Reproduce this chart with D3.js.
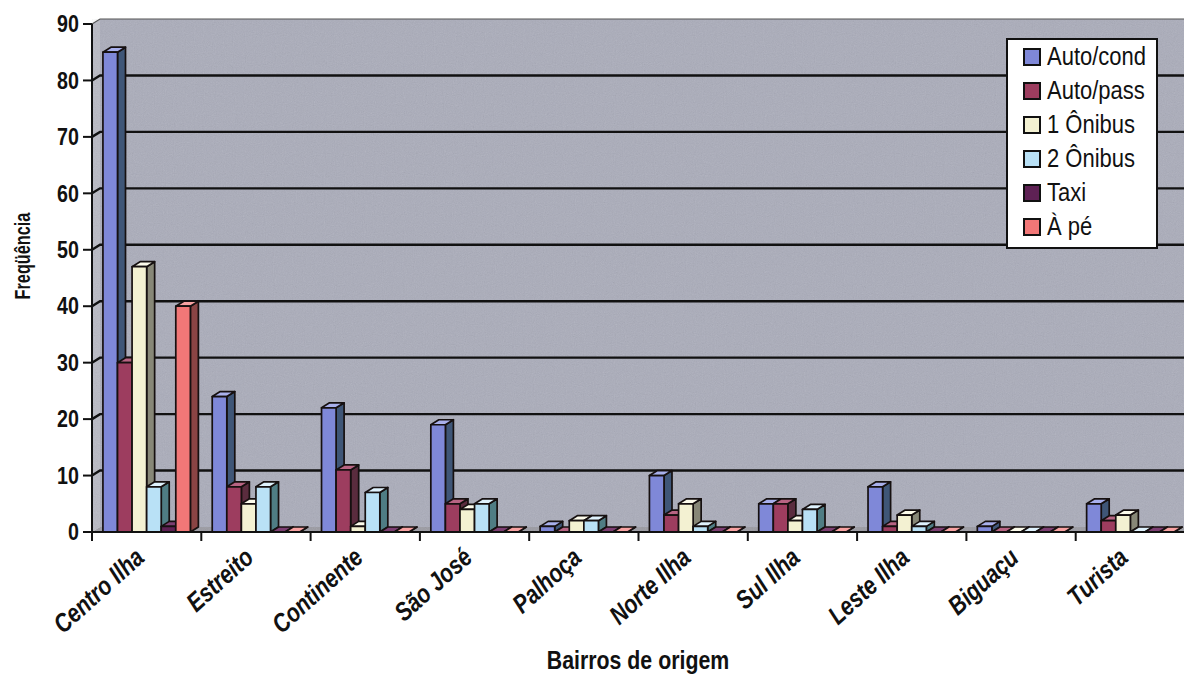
<!DOCTYPE html>
<html>
<head>
<meta charset="utf-8">
<script src="https://cdn.jsdelivr.net/npm/d3@7"></script>
<style>
  body { margin: 0; background: #fff; }
  svg { display: block; }
</style>
</head>
<body>
<svg id="chart" width="1184" height="675"></svg>
<script>
// categories (bairros de origem)
const bairros = ["Centro Ilha", "Estreito", "Continente", "São José", "Palhoça",
                 "Norte Ilha", "Sul Ilha", "Leste Ilha", "Biguaçu", "Turista"];
const modos = ["Auto/cond", "Auto/pass", "1 Ônibus", "2 Ônibus", "Taxi", "À pé"];

// one array per series
const autoCond = [85, 24, 22, 19, 1, 10, 5, 8, 1, 5];
const autoPass = [30, 8, 11, 5, 0, 3, 5, 1, 0, 2];
const onibus1  = [47, 5, 1, 4, 2, 5, 2, 3, 0, 3];
const onibus2  = [8, 8, 7, 5, 2, 1, 4, 1, 0, 0];
const taxi     = [1, 0, 0, 0, 0, 0, 0, 0, 0, 0];
const aPe      = [40, 0, 0, 0, 0, 0, 0, 0, 0, 0];
const yTicks = [0, 10, 20, 30, 40, 50, 60, 70, 80, 90];

const seriesValues = [autoCond, autoPass, onibus1, onibus2, taxi, aPe];
// front / side / top colours for each series
const colors = [
  ["#7f88d8", "#3f5677", "#a9b0ec"],
  ["#9d3d5f", "#5a2c3e", "#b86483"],
  ["#f3f1d2", "#878777", "#fdfcec"],
  ["#b9e1f6", "#4f7d84", "#dff2fd"],
  ["#5e2154", "#3a1734", "#7d3f72"],
  ["#f27777", "#8a4444", "#f8a2a2"]
];

const W = 1184, H = 675;
const svg = d3.select("#chart");
// no narrow font installed, so Liberation Sans gets squeezed horizontally
const sans = "'Liberation Sans', Arial, sans-serif";
const squeeze = 0.82;

// depth of the 3D effect
const dx = 8, dy = -5;

const x = d3.scaleBand().domain(bairros).range([92, 1185]).paddingInner(0).paddingOuter(0);
const xs = d3.scaleBand().domain(modos)
  .range([x.bandwidth() * 0.1, x.bandwidth() * 0.9]).padding(0);
const y = d3.scaleLinear().domain([0, 90]).range([532, 24]);

const x0 = x.range()[0], yb = y(0), yt = y(90);

// grain
const defs = svg.append("defs");
const f = defs.append("filter").attr("id", "grain").attr("x", 0).attr("y", 0)
  .attr("width", 1).attr("height", 1);
f.append("feTurbulence").attr("type", "fractalNoise").attr("baseFrequency", 0.9)
  .attr("numOctaves", 2).attr("seed", 3);
f.append("feColorMatrix").attr("type", "saturate").attr("values", 0);

// walls
svg.append("polygon") // side wall
  .attr("points", [[x0, yb], [x0, yt], [x0 + dx, yt + dy], [x0 + dx, yb + dy]].join(" "))
  .attr("fill", "#b9bac4");
svg.append("rect") // back wall
  .attr("x", x0 + dx).attr("y", yt + dy)
  .attr("width", W - x0 - dx).attr("height", yb - yt)
  .attr("fill", "#aaacba");
svg.append("polygon") // floor
  .attr("points", [[x0, yb], [x0 + dx, yb + dy], [W, yb + dy], [W, yb]].join(" "))
  .attr("fill", "#9a9aa2");
svg.append("rect")
  .attr("x", x0).attr("y", yt + dy)
  .attr("width", W - x0).attr("height", yb - yt - dy)
  .attr("filter", "url(#grain)").attr("opacity", 0.2);

// wall outline
svg.append("path")
  .attr("d", `M${x0},${yt}L${x0 + dx},${yt + dy}H${W}`)
  .attr("fill", "none").attr("stroke", "#555").attr("stroke-width", 1.2);

// gridlines on the back wall
svg.append("g").selectAll("path")
  .data(yTicks.filter(d => d > 0 && d < 90))
  .join("path")
  .attr("d", d => `M${x0},${y(d)}L${x0 + dx},${y(d) + dy}H${W}`)
  .attr("fill", "none")
  .attr("stroke", "#111")
  .attr("stroke-width", 2.4);

// bars
const bars = [];
bairros.forEach((b, i) => {
  modos.forEach((m, j) => {
    bars.push({ cat: b, mode: m, j: j, v: seriesValues[j][i] });
  });
});

const bw = xs.bandwidth();
const barG = svg.append("g")
  .attr("stroke", "#161010")
  .attr("stroke-width", 1.7)
  .attr("stroke-linejoin", "round");

bars.forEach(d => {
  const bx = x(d.cat) + xs(d.mode);
  const by = y(d.v);
  const g = barG.append("g");
  g.append("polygon") // side
    .attr("points", [[bx + bw, by], [bx + bw + dx, by + dy], [bx + bw + dx, yb + dy], [bx + bw, yb]].join(" "))
    .attr("fill", colors[d.j][1]);
  g.append("polygon") // top
    .attr("points", [[bx, by], [bx + dx, by + dy], [bx + bw + dx, by + dy], [bx + bw, by]].join(" "))
    .attr("fill", colors[d.j][2]);
  g.append("rect") // front
    .attr("x", bx).attr("y", by)
    .attr("width", bw).attr("height", yb - by)
    .attr("fill", colors[d.j][0]);
});

// y axis
const yAxis = svg.append("g");
yAxis.append("line")
  .attr("x1", x0).attr("x2", x0).attr("y1", yt).attr("y2", yb + 1)
  .attr("stroke", "#111").attr("stroke-width", 2);
yAxis.selectAll(".tk").data(yTicks).join("line")
  .attr("x1", x0 - 9).attr("x2", x0)
  .attr("y1", d => y(d)).attr("y2", d => y(d))
  .attr("stroke", "#111").attr("stroke-width", 2);
yAxis.selectAll("text").data(yTicks).join("text")
  .attr("transform", d => `translate(${x0 - 13},${y(d)}) scale(${squeeze},1)`)
  .attr("text-anchor", "end").attr("dominant-baseline", "central")
  .attr("font-family", sans).attr("font-weight", "bold").attr("font-size", 24)
  .attr("fill", "#111")
  .text(d => d);

// x axis
const xAxis = svg.append("g");
xAxis.append("line")
  .attr("x1", x0).attr("x2", W).attr("y1", yb).attr("y2", yb)
  .attr("stroke", "#111").attr("stroke-width", 2);
xAxis.selectAll(".tk").data(bairros).join("line")
  .attr("x1", d => x(d)).attr("x2", d => x(d))
  .attr("y1", yb).attr("y2", yb + 9)
  .attr("stroke", "#111").attr("stroke-width", 2);
xAxis.selectAll("text").data(bairros).join("text")
  .attr("transform", d => `translate(${x(d) + x.bandwidth() / 2 - 7},${yb + 21}) rotate(-42) scale(0.82,1)`)
  .attr("text-anchor", "end")
  .attr("dominant-baseline", "central")
  .attr("font-family", sans).attr("font-weight", "bold").attr("font-style", "italic")
  .attr("font-size", 26).attr("fill", "#111")
  .text(d => d);

// axis titles
svg.append("text")
  .attr("transform", "translate(22,256) rotate(-90) scale(0.74,1)")
  .attr("text-anchor", "middle").attr("dominant-baseline", "central")
  .attr("font-family", sans).attr("font-weight", "bold").attr("font-size", 22)
  .attr("fill", "#111")
  .text("Freqüência");
svg.append("text")
  .attr("transform", `translate(638,669) scale(${squeeze},1)`)
  .attr("text-anchor", "middle")
  .attr("font-family", sans).attr("font-weight", "bold").attr("font-size", 26)
  .attr("fill", "#111")
  .text("Bairros de origem");

// legend
const lg = svg.append("g").attr("transform", "translate(1007,39)");
lg.append("rect").attr("width", 150).attr("height", 209)
  .attr("fill", "#fff").attr("stroke", "#111").attr("stroke-width", 2);
const items = lg.selectAll(".it").data(modos).join("g")
  .attr("transform", (d, i) => `translate(0,${18 + i * 34})`);
items.append("rect")
  .attr("x", 17).attr("y", -8).attr("width", 16).attr("height", 16)
  .attr("fill", (d, i) => colors[i][0])
  .attr("stroke", "#111").attr("stroke-width", 2);
items.append("text")
  .attr("transform", "translate(40,0) scale(0.88,1)")
  .attr("dominant-baseline", "central")
  .attr("font-family", sans).attr("font-size", 25).attr("fill", "#111")
  .text(d => d);
</script>
</body>
</html>
